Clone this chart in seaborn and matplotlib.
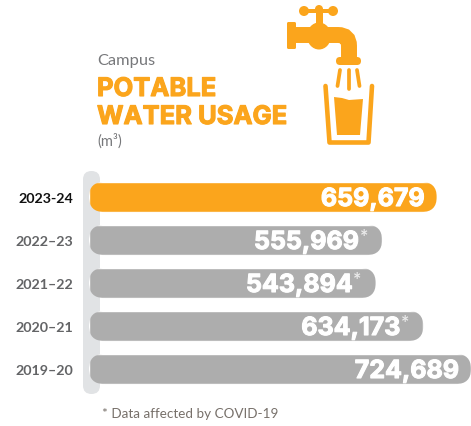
import matplotlib
matplotlib.use('Agg')
import matplotlib.pyplot as plt
import matplotlib.patheffects as pe
from matplotlib.patches import FancyBboxPatch, Rectangle, Polygon, Circle, Ellipse, PathPatch
from matplotlib.path import Path
from matplotlib.transforms import IdentityTransform
import pandas as pd
import seaborn as sns

years = ['2023-24', '2022\u201323', '2021\u201322', '2020\u201321', '2019\u201320']
usage = [659679, 555969, 543894, 634173, 724689]
value_labels = ['659,679', '555,969', '543,894', '634,173', '724,689']
covid_flag = [False, True, True, True, False]

ORANGE = '#fba51c'
GREY = '#adadad'
W, H = 471, 427
RAIL = '#e1e3e5'
HEAVY = 'Inter'

sns.set_theme(style='white')
plt.rcParams['font.family'] = ['Lato', 'DejaVu Sans']

fig = plt.figure(figsize=(W / 100, H / 100), dpi=100, facecolor='white')

# pixel canvas for the header, the icon and the rail
bg = fig.add_axes([0, 0, 1, 1], zorder=0)
bg.set_xlim(0, W)
bg.set_ylim(H, 0)
bg.axis('off')

bg.add_patch(FancyBboxPatch((83 + 8, 172 + 8), 17 - 16, 223 - 16,
                            boxstyle='round,pad=8,rounding_size=8.5',
                            fc=RAIL, ec='none'))

bg.text(97, 61, 'Campus', fontsize=11.8, color='#77787b', ha='left', va='center')
bg.text(97, 88, 'POTABLE', fontsize=18.4, color=ORANGE, family=HEAVY, fontweight='bold', ha='left', va='center_baseline',
        path_effects=[pe.withStroke(linewidth=0.8, foreground=ORANGE)])
bg.text(97, 116, 'WATER USAGE', fontsize=18.4, color=ORANGE, family=HEAVY, fontweight='bold', ha='left', va='center_baseline',
        path_effects=[pe.withStroke(linewidth=0.8, foreground=ORANGE)])
bg.text(97, 141, '(m\u00b3)', fontsize=10.5, color='#77787b', ha='left', va='center')
bg.text(102, 414, '* Data affected by COVID-19', fontsize=9.7, color='#77706a', ha='left', va='center')

# tap
bg.add_patch(FancyBboxPatch((287, 23), 9, 27, boxstyle='round,pad=0,rounding_size=1.5', fc=ORANGE, ec='none'))
bg.add_patch(PathPatch(Path([(294, 36), (338, 36), (349, 36), (349, 47), (349, 60)],
                            [Path.MOVETO, Path.LINETO, Path.CURVE3, Path.CURVE3, Path.LINETO]),
                       fc='none', ec=ORANGE, lw=11.5, capstyle='butt'))
bg.add_patch(Ellipse((319, 37), 24, 27, fc=ORANGE, ec='none'))
bg.add_patch(FancyBboxPatch((336, 58), 25, 8, boxstyle='round,pad=0,rounding_size=4', fc=ORANGE, ec='none'))
bg.add_patch(Rectangle((316, 12), 7, 14, fc=ORANGE, ec='none'))
bg.add_patch(Rectangle((304, 10), 29, 4, fc=ORANGE, ec='none'))
bg.add_patch(Circle((304, 12), 5, fc=ORANGE, ec='none'))
bg.add_patch(Circle((319, 10), 4, fc=ORANGE, ec='none'))
bg.add_patch(Circle((333, 12), 5, fc=ORANGE, ec='none'))

# drops
for x0, x1, y0, y1 in [(340, 337.5, 71, 87), (348.5, 348.5, 71, 90), (357, 359.5, 71, 87)]:
    bg.plot([x0, x1], [y0, y1], color=ORANGE, lw=2.7, solid_capstyle='round')

# glass
bg.plot([325.5, 329.5, 368.5, 372], [87, 143.5, 143.5, 87], color=ORANGE, lw=3.3,
        solid_capstyle='round', solid_joinstyle='round')
bg.add_patch(Polygon([(334, 98), (342, 99), (349, 101), (356, 100.5), (363, 100), (360, 136), (337, 136)],
                     fc=ORANGE, ec='none'))

# chart axes, bar starts at x=89 and 724,689 ends at the right edge
ax = fig.add_axes([89 / W, 1 - 391.5 / H, 382 / W, 215 / H], zorder=1)
df = pd.DataFrame({'year': years, 'usage': usage})
sns.barplot(data=df, x='usage', y='year', hue='year', palette=[ORANGE, GREY, GREY, GREY, GREY],
            legend=False, width=0.7, saturation=1, ax=ax)
ax.set_xlim(0, max(usage))
ax.set_ylim(4.5, -0.5)
ax.patch.set_alpha(0)
for s in ax.spines.values():
    s.set_visible(False)
ax.set_xticks([])
ax.set_xlabel('')
ax.set_ylabel('')
ax.tick_params(axis='y', length=0, pad=11.5)
for i, t in enumerate(ax.get_yticklabels()):
    t.set_fontsize(10.3)
    t.set_fontweight('bold')
    t.set_color('#111111' if i == 0 else '#636466')

# pill shaped ends on the bars
fig.canvas.draw()
for p in ax.patches:
    b = p.get_window_extent()
    r = b.height / 2
    pill = FancyBboxPatch((b.x0 + r, b.y0 + r), b.width - 2 * r, b.height - 2 * r,
                          boxstyle=f'round,pad={r},rounding_size={r}', transform=IdentityTransform(),
                          fc='none', ec='none')
    p.set_clip_path(pill)

px = max(usage) / 382
for i, lab in enumerate(value_labels):
    end = usage[i] - 12 * px
    if covid_flag[i]:
        end = usage[i] - 23 * px
        ax.annotate('*', (usage[i], i), xytext=(-14, 3), textcoords='offset pixels', ha='right', va='center',
                    fontsize=14, color='white', fontweight='bold', alpha=0.75)
    ax.text(end, i, lab, fontsize=18, color='white', family=HEAVY, fontweight='bold', ha='right', va='center_baseline',
            path_effects=[pe.withStroke(linewidth=0.8, foreground='white')])

fig.savefig('out.png', dpi=100)
